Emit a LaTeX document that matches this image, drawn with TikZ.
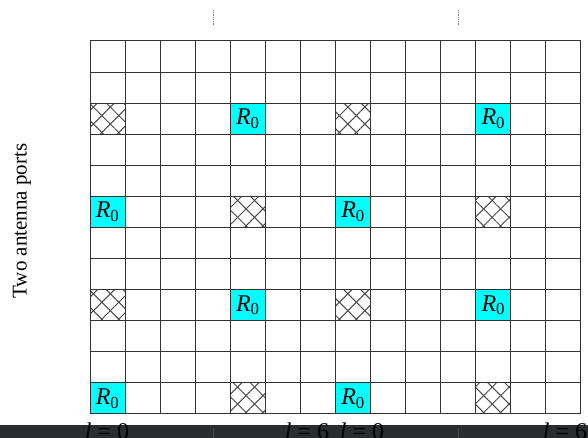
\documentclass[tikz,border=0pt]{standalone}
\usepackage{fontspec}
\setmainfont{Liberation Serif}
\usetikzlibrary{patterns.meta}
\definecolor{refcyan}{HTML}{00FFFF}
\definecolor{gridgray}{HTML}{333333}
\definecolor{hatchgray}{HTML}{4A4A4A}
\definecolor{bargray}{HTML}{2B2C2F}

\tikzset{
  gridline/.style={draw=gridgray,line width=1pt},
  refcell/.style={fill=refcyan,minimum width=35.07pt,minimum height=31.08pt,inner sep=0pt,font=\fontsize{24}{26}\selectfont},
  hatchcell/.style={minimum width=35.07pt,minimum height=31.08pt,inner sep=0pt,
    pattern={Lines[angle=45,distance=12pt,line width=1pt]},pattern color=hatchgray,
    postaction={pattern={Lines[angle=-45,distance=12pt,line width=1pt]},pattern color=hatchgray}},
  dotmark/.style={densely dotted,line width=.8pt},
  portlabel/.style={font=\fontsize{24}{26}\selectfont,anchor=base,inner sep=0pt}
}

\begin{document}
\begin{tikzpicture}[x=1pt,y=-1pt]
\useasboundingbox[fill=white] (0,0) rectangle (588,438);

% resource grid
\begin{scope}[shift={(90,41)},x=35.07pt,y=-31.08pt]
\foreach \c/\r/\num in {4/2/1,11/2/2,0/5/3,7/5/4,4/8/5,11/8/6,0/11/7,7/11/8}
{
  \node[refcell] (r\num) at (\c+.5,\r+.5) {\textit{R}\textsubscript{0}};
}
\foreach \c/\r/\num in {0/2/1,7/2/2,4/5/3,11/5/4,0/8/5,7/8/6,4/11/7,11/11/8}
{
  \node[hatchcell] (h\num) at (\c+.5,\r+.5) {};
}
\foreach \i in {0,...,14}{\draw[gridline] (\i,0) -- (\i,12);}
\foreach \j in {0,...,12}{\draw[gridline] (0,\j) -- (14,\j);}
\end{scope}

\node[rotate=90,font=\fontsize{21}{24}\selectfont] (ports) at (22,221) {Two antenna ports};

% bottom bar
\fill[bargray] (0,425) rectangle (588,438);
\node[portlabel] (la0) at (107,439) {\textit{l} = 0};
\node[portlabel] (la6) at (307,439) {\textit{l} = 6};
\node[portlabel] (lb0) at (362,439) {\textit{l} = 0};
\node[portlabel] (lb6) at (565,439) {\textit{l} = 6};

% slot marks
\coordinate (ta) at (213.5,10);
\coordinate (tb) at (458.5,10);
\draw[dotmark,gray] (ta) -- ++(0,15);
\draw[dotmark,gray] (tb) -- ++(0,15);
\draw[dotmark,gray!70!black] (213.5,428) -- ++(0,10);
\draw[dotmark,gray!70!black] (458.5,428) -- ++(0,10);
\end{tikzpicture}
\end{document}
